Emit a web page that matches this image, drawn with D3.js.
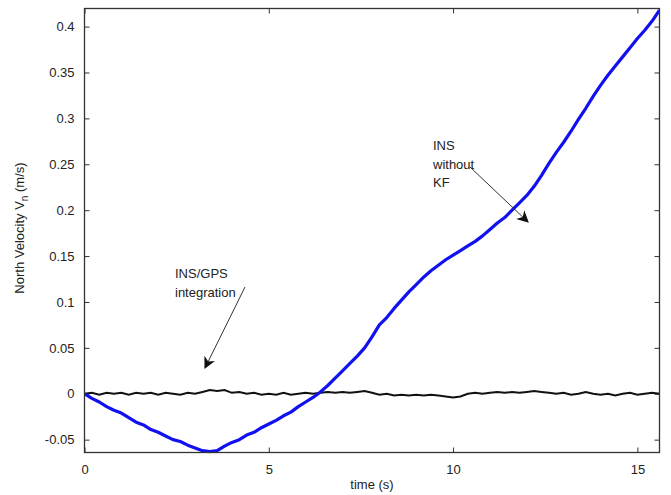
<!DOCTYPE html>
<html>
<head>
<meta charset="utf-8">
<script src="https://cdn.jsdelivr.net/npm/d3@7"></script>
<style>
  body { margin: 0; background: #fff; }
  text { font-family: "Liberation Sans", Arial, sans-serif; fill: #222; }
</style>
</head>
<body>
<div id="canvas"></div>
<script>
"use strict"

/* Data */
let time = [0, 0.2, 0.4, 0.6, 0.8, 1, 1.2, 1.4, 1.6, 1.8, 2, 2.2, 2.4, 2.6, 2.8, 3, 3.2, 3.4, 3.6, 3.8,
    4, 4.2, 4.4, 4.6, 4.8, 5, 5.2, 5.4, 5.6, 5.8, 6, 6.2, 6.4, 6.6, 6.8, 7, 7.2, 7.4, 7.6, 7.8,
    8, 8.2, 8.4, 8.6, 8.8, 9, 9.2, 9.4, 9.6, 9.8, 10, 10.2, 10.4, 10.6, 10.8, 11, 11.2, 11.4, 11.6, 11.8,
    12, 12.2, 12.4, 12.6, 12.8, 13, 13.2, 13.4, 13.6, 13.8, 14, 14.2, 14.4, 14.6, 14.8, 15, 15.2, 15.4, 15.6];

// INS without KF (blue)
let insOnly = [0.000, -0.005, -0.009, -0.014, -0.018, -0.021, -0.026, -0.031, -0.034, -0.039,
    -0.042, -0.046, -0.050, -0.052, -0.056, -0.059, -0.062, -0.063, -0.062, -0.057,
    -0.053, -0.050, -0.045, -0.042, -0.037, -0.033, -0.029, -0.024, -0.020, -0.014,
    -0.009, -0.004, 0.002, 0.009, 0.017, 0.025, 0.033, 0.041, 0.050, 0.062,
    0.075, 0.083, 0.093, 0.102, 0.111, 0.119, 0.127, 0.134, 0.140, 0.146,
    0.151, 0.156, 0.161, 0.166, 0.172, 0.179, 0.186, 0.192, 0.200, 0.208,
    0.216, 0.226, 0.238, 0.251, 0.263, 0.274, 0.286, 0.299, 0.311, 0.324,
    0.336, 0.347, 0.357, 0.367, 0.377, 0.387, 0.396, 0.406, 0.418];

// INS/GPS integration (black)
let insGps = [0.000, 0.001, -0.001, 0.001, 0.000, 0.001, -0.001, 0.001, 0.000, 0.001,
    -0.001, 0.001, 0.000, -0.001, 0.001, 0.000, 0.002, 0.004, 0.003, 0.004,
    0.001, 0.002, 0.000, 0.001, -0.001, 0.000, -0.001, 0.001, -0.001, 0.000,
    0.001, 0.000, 0.001, 0.002, 0.001, 0.002, 0.001, 0.002, 0.003, 0.001,
    -0.001, 0.000, -0.002, -0.001, -0.002, -0.001, -0.002, -0.001, -0.002, -0.003,
    -0.004, -0.003, 0.000, 0.001, 0.000, 0.001, 0.002, 0.001, 0.002, 0.001,
    0.002, 0.003, 0.002, 0.001, 0.000, 0.001, -0.001, 0.000, 0.002, 0.000,
    -0.001, 0.000, -0.002, 0.000, 0.001, -0.001, 0.000, 0.001, 0.000];

let xTicks = [0, 5, 10, 15];
let yTicks = [-0.05, 0, 0.05, 0.1, 0.15, 0.2, 0.25, 0.3, 0.35, 0.4];

/* Drawing configuration */
let svgWidth = 671;
let svgHeight = 495;
let plotLeft = 84.5, plotRight = 659.5, plotTop = 8.5, plotBottom = 452.5;

let svg = d3.select("#canvas")
    .append("svg")
    .attr("width", svgWidth)
    .attr("height", svgHeight);

let xScale = d3.scaleLinear()
    .domain([0, 15.6])
    .range([plotLeft, plotRight]);

let yScale = d3.scaleLinear()
    .domain([-0.064, 0.4197])
    .range([plotBottom, plotTop]);

/* Axes (MATLAB style box with inward ticks on all sides) */
let tickLen = 5;
let fmt = d => d === 0 ? "0" : String(d);

svg.append("g")
    .attr("transform", `translate(0,${plotBottom})`)
    .call(d3.axisBottom(xScale).tickValues(xTicks).tickSizeInner(-tickLen).tickSizeOuter(0).tickPadding(12).tickFormat(fmt))
    .call(g => g.select(".domain").remove())
    .call(g => g.selectAll("line").attr("stroke", "#333"))
    .call(g => g.selectAll("text").attr("font-size", 13).attr("fill", "#222")
        .attr("font-family", "Liberation Sans, Arial, sans-serif"));

svg.append("g")
    .attr("transform", `translate(0,${plotTop})`)
    .call(d3.axisTop(xScale).tickValues(xTicks).tickSizeInner(-tickLen).tickSizeOuter(0).tickFormat(""))
    .call(g => g.select(".domain").remove())
    .call(g => g.selectAll("line").attr("stroke", "#333"));

svg.append("g")
    .attr("transform", `translate(${plotLeft},0)`)
    .call(d3.axisLeft(yScale).tickValues(yTicks).tickSizeInner(-tickLen).tickSizeOuter(0).tickPadding(10).tickFormat(fmt))
    .call(g => g.select(".domain").remove())
    .call(g => g.selectAll("line").attr("stroke", "#333"))
    .call(g => g.selectAll("text").attr("font-size", 13).attr("fill", "#222")
        .attr("font-family", "Liberation Sans, Arial, sans-serif"));

svg.append("g")
    .attr("transform", `translate(${plotRight},0)`)
    .call(d3.axisRight(yScale).tickValues(yTicks).tickSizeInner(-tickLen).tickSizeOuter(0).tickFormat(""))
    .call(g => g.select(".domain").remove())
    .call(g => g.selectAll("line").attr("stroke", "#333"));

/* Data lines, clipped to the axes box */
svg.append("clipPath")
    .attr("id", "plotClip")
    .append("rect")
    .attr("x", plotLeft)
    .attr("y", plotTop)
    .attr("width", plotRight - plotLeft)
    .attr("height", plotBottom - plotTop + 1);

let line = d3.line()
    .x(d => xScale(d[0]))
    .y(d => yScale(d[1]));

svg.append("path")
    .datum(d3.zip(time, insGps))
    .attr("clip-path", "url(#plotClip)")
    .attr("fill", "none")
    .attr("stroke", "#111")
    .attr("stroke-width", 2)
    .attr("d", line);

svg.append("path")
    .datum(d3.zip(time, insOnly))
    .attr("clip-path", "url(#plotClip)")
    .attr("fill", "none")
    .attr("stroke", "#1010f0")
    .attr("stroke-width", 3.2)
    .attr("stroke-linejoin", "round")
    .attr("d", line);

/* Box */
svg.append("rect")
    .attr("x", plotLeft)
    .attr("y", plotTop)
    .attr("width", plotRight - plotLeft)
    .attr("height", plotBottom - plotTop)
    .attr("fill", "none")
    .attr("stroke", "#333")
    .attr("stroke-width", 1.3);

/* Axis labels */
svg.append("text")
    .attr("x", (plotLeft + plotRight) / 2)
    .attr("y", 489)
    .attr("text-anchor", "middle")
    .attr("font-size", 13)
    .text("time (s)");

let yLab = svg.append("text")
    .attr("transform", "translate(24,228) rotate(-90)")
    .attr("text-anchor", "middle")
    .attr("font-size", 13);
yLab.append("tspan").text("North Velocity V");
yLab.append("tspan").attr("font-size", 10).attr("dy", 4).text("n");
yLab.append("tspan").attr("dy", -4).text(" (m/s)");

/* Annotations with arrows */
svg.append("defs").append("marker")
    .attr("id", "arrowHead")
    .attr("viewBox", "0 0 10 10")
    .attr("refX", 9)
    .attr("refY", 5)
    .attr("markerWidth", 12)
    .attr("markerHeight", 12)
    .attr("markerUnits", "userSpaceOnUse")
    .attr("orient", "auto")
    .append("path")
    .attr("d", "M0,0 L10,5 L0,10 L3,5 Z")
    .attr("fill", "#111");

function annotate(lines, tx, ty, x1, y1, x2, y2) {
    let t = svg.append("text")
        .attr("x", tx)
        .attr("y", ty)
        .attr("font-size", 13);
    lines.forEach((s, i) => {
        t.append("tspan").attr("x", tx).attr("dy", i === 0 ? 0 : 18.5).text(s);
    });
    svg.append("line")
        .attr("x1", x1).attr("y1", y1)
        .attr("x2", x2).attr("y2", y2)
        .attr("stroke", "#333")
        .attr("stroke-width", 1)
        .attr("marker-end", "url(#arrowHead)");
}

annotate(["INS/GPS", "integration"], 175, 278, 245, 287, 205, 368);
annotate(["INS", "without", "KF"], 433, 150, 470, 167, 528, 222);
</script>
</body>
</html>
